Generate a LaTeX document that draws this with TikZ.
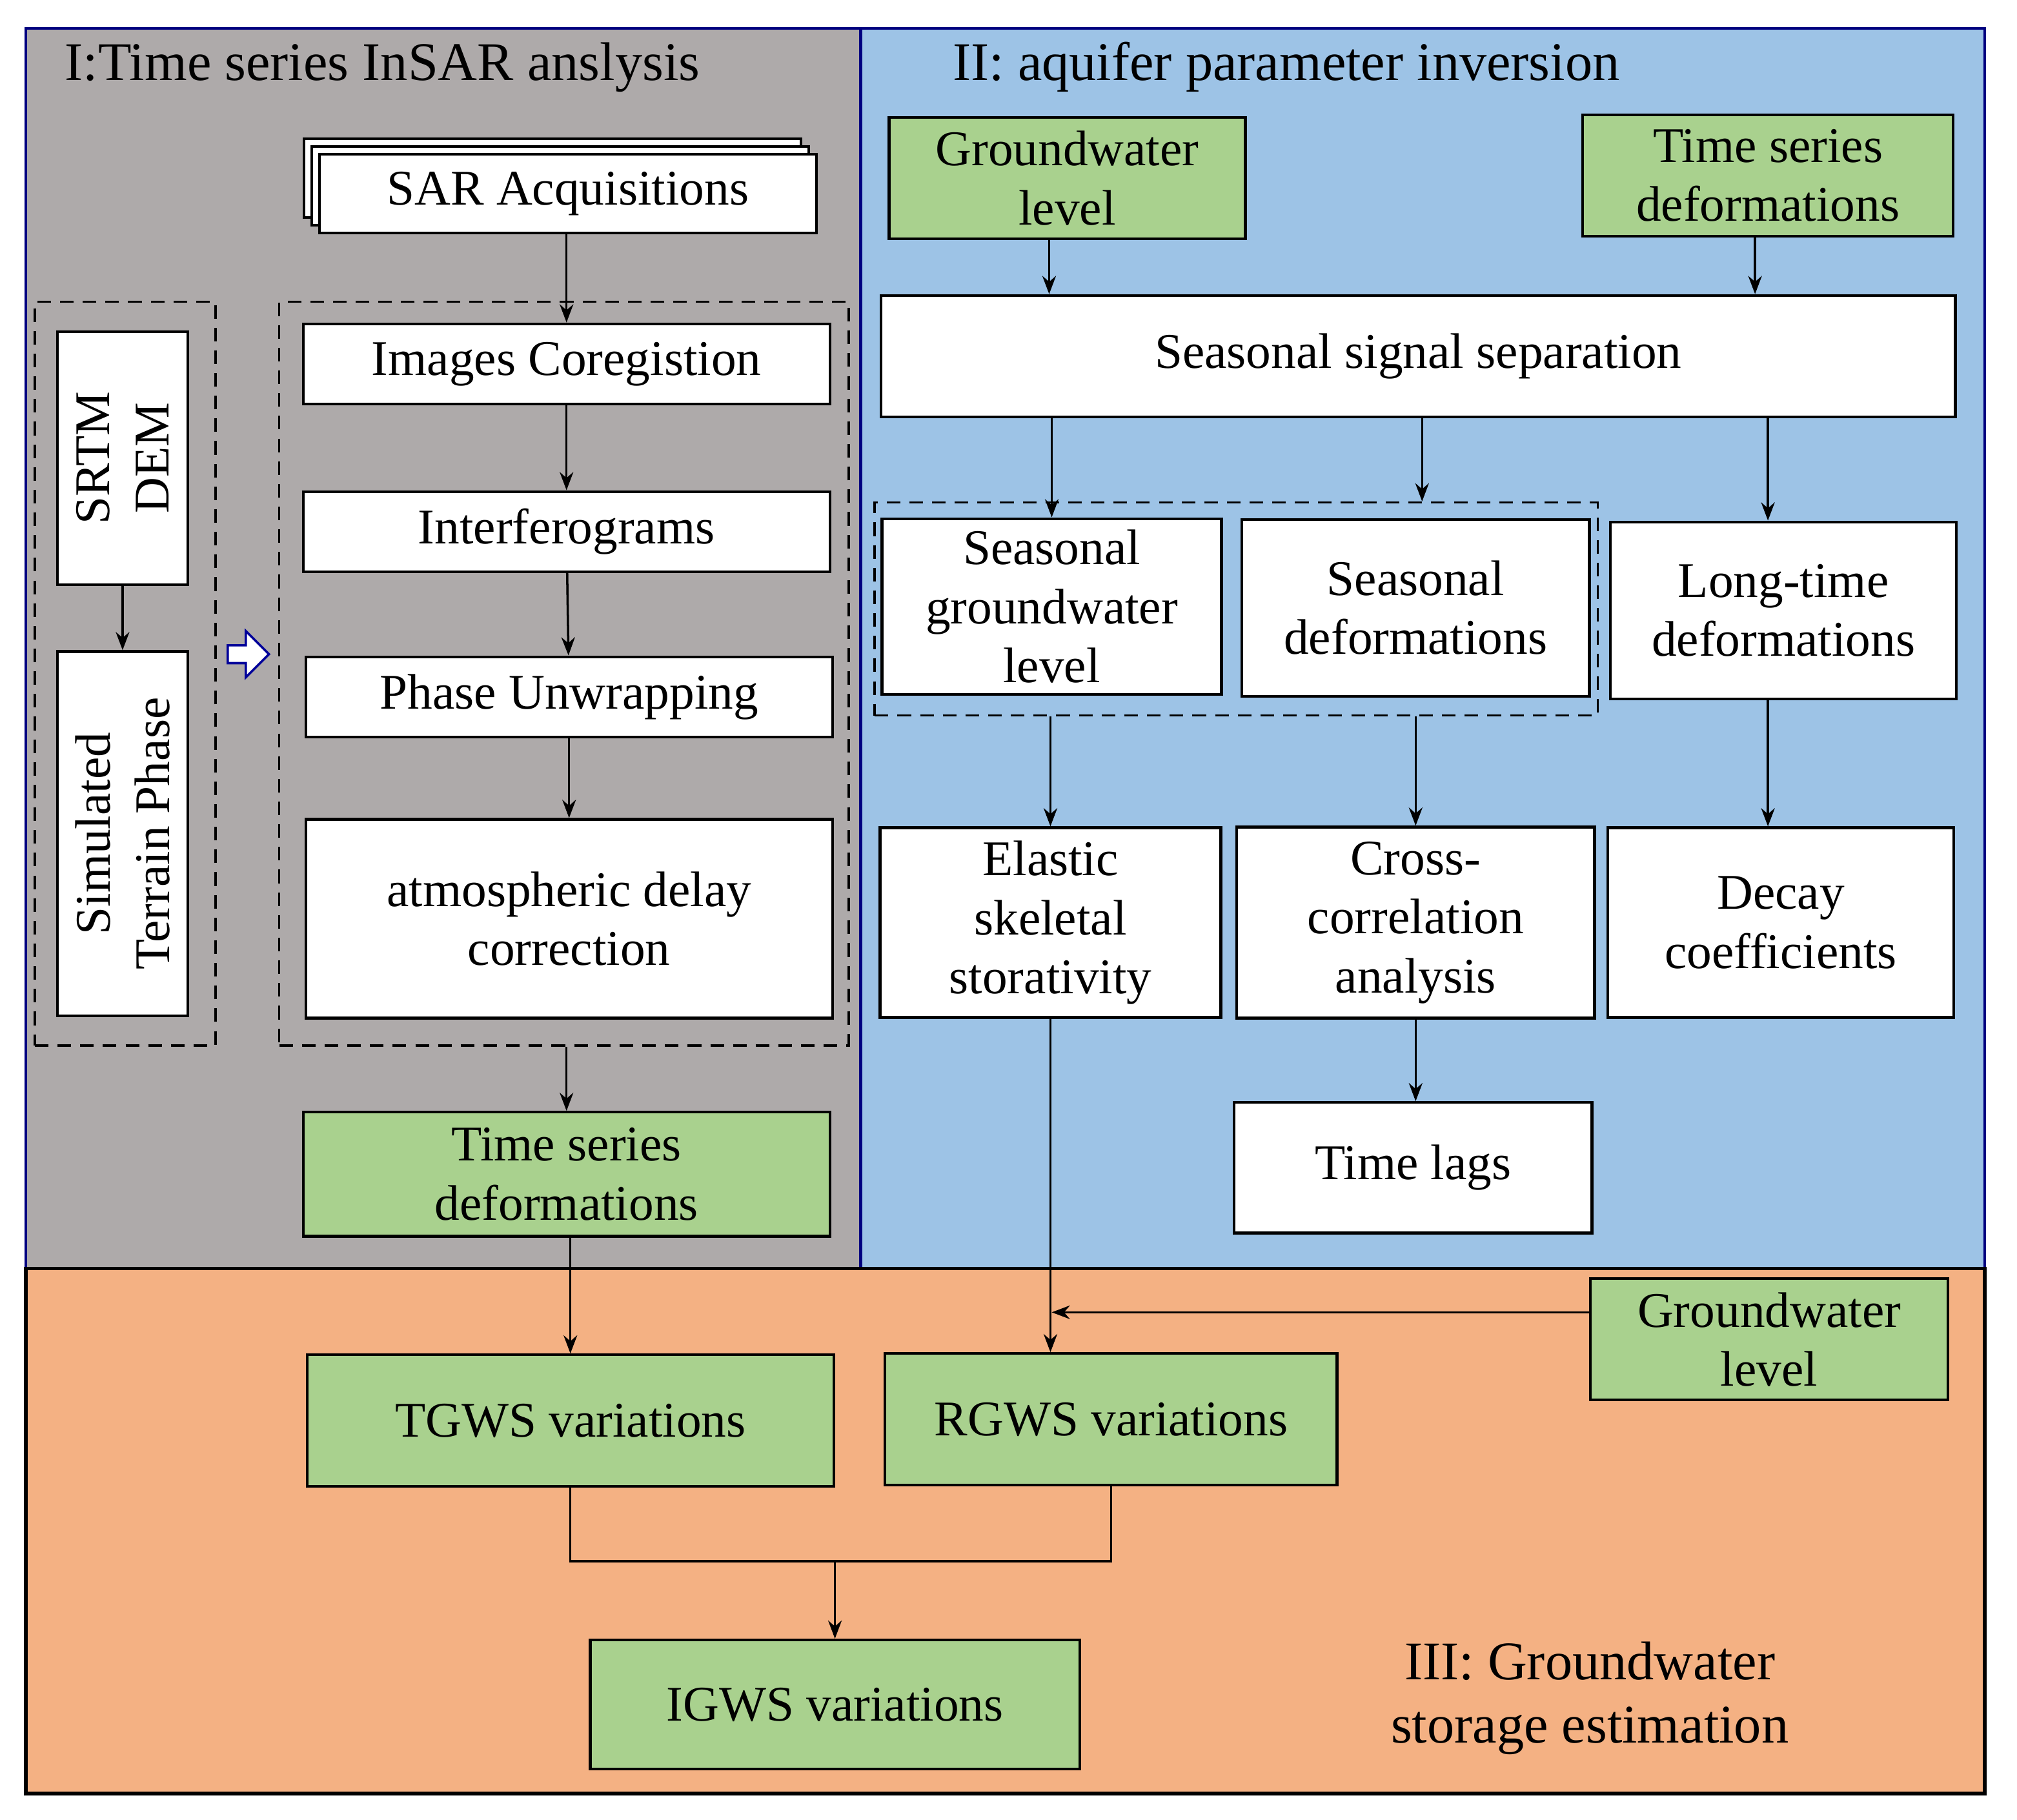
\documentclass[tikz,border=0pt]{standalone}
\usepackage{fontspec}
\setmainfont{Liberation Serif}
\usetikzlibrary{arrows.meta,positioning,shapes.arrows}
\definecolor{grayp}{HTML}{AEAAAA}
\definecolor{bluep}{HTML}{9DC3E6}
\definecolor{orangep}{HTML}{F4B183}
\definecolor{greenb}{HTML}{A9D18E}
\begin{document}
\begin{tikzpicture}[x=0.01cm,y=-0.01cm,font=\fontsize{11}{13}\selectfont]
        \tikzstyle{box} = [draw, fill=white, align=center, inner sep=1pt, line width=0.6pt]
        \tikzstyle{gbox} = [box, fill=greenb]
        \tikzstyle{dbox} = [draw, densely dashed, line width=0.5pt, inner sep=0pt]
        \tikzstyle{blk} = [draw, black, line width=0.5pt, -{Stealth[length=4pt,width=3pt]}]
        \useasboundingbox (0,0) rectangle (1563,1410);

        % panels
        \fill[grayp] (20,22) rectangle (667,983);
        \fill[bluep] (667,22) rectangle (1538,983);
        \fill[orangep] (20,983) rectangle (1538,1390);
        \draw[line width=0.6pt, blue!50!black] (20,22) rectangle (667,983) (667,22) rectangle (1538,983);
        \draw[line width=0.8pt] (20,983) rectangle (1538,1390);
        \node[anchor=west, font=\fontsize{12}{14}\selectfont] (t1) at (38,52) {I:Time series InSAR anslysis};
        \node[anchor=west, font=\fontsize{12}{14}\selectfont] (t2) at (726,52) {II: aquifer parameter inversion};
        \node[align=center, font=\fontsize{12}{14}\selectfont] (t3) at (1232,1316) {III: Groundwater\\storage estimation};

        % part I
        \node[box, minimum width=3.85cm, minimum height=0.61cm] (sarc) at (428,138) {};
        \node[box, minimum width=3.85cm, minimum height=0.61cm] (sarb) at (434,144) {};
        \node[box, minimum width=3.85cm, minimum height=0.61cm] (sar) at (440,150) {SAR Acquisitions};
        \node[dbox, minimum width=4.41cm, minimum height=5.76cm] (proc) at (437,522) {};
        \node[box, minimum width=4.08cm, minimum height=0.62cm] (coreg) at (439,282) {Images Coregistion};
        \node[box, minimum width=4.08cm, minimum height=0.62cm] (interf) at (439,412) {Interferograms};
        \node[box, minimum width=4.08cm, minimum height=0.62cm] (unwrap) at (441,540) {Phase Unwrapping};
        \node[box, minimum width=4.08cm, minimum height=1.54cm] (atm) at (441,712) {atmospheric delay\\correction};
        \node[dbox, minimum width=1.40cm, minimum height=5.76cm] (demgrp) at (97,522) {};
        \node[box, rotate=90, minimum width=1.96cm, minimum height=1.01cm] (srtm) at (95,355) {SRTM\\DEM};
        \node[box, rotate=90, minimum width=2.82cm, minimum height=1.01cm] (sim) at (95,646) {Simulated\\Terrain Phase};
        \node[draw=blue!60!black, fill=white, single arrow, minimum height=0.32cm, minimum width=0.36cm,
              single arrow head extend=2pt, inner sep=1pt, line width=0.5pt] (hollow) at (189,507) {};
        \node[gbox, minimum width=4.08cm, minimum height=0.96cm] (tsleft) at (439,910) {Time series\\deformations};

        % part II
        \node[gbox, minimum width=2.76cm, minimum height=0.94cm] (gw) at (827,138) {Groundwater\\level};
        \node[gbox, minimum width=2.87cm, minimum height=0.94cm] (tsright) at (1370,136) {Time series\\deformations};
        \node[box, minimum width=8.32cm, minimum height=0.94cm] (seasep) at (1099,276) {Seasonal signal separation};
        \node[dbox, minimum width=5.60cm, minimum height=1.65cm] (seasgrp) at (958,472) {};
        \node[box, minimum width=2.63cm, minimum height=1.36cm] (sgw) at (815,470) {Seasonal\\groundwater\\level};
        \node[box, minimum width=2.69cm, minimum height=1.37cm] (sdef) at (1097,471) {Seasonal\\deformations};
        \node[box, minimum width=2.68cm, minimum height=1.37cm] (ldef) at (1382,473) {Long-time\\deformations};
        \node[box, minimum width=2.64cm, minimum height=1.47cm] (elastic) at (814,715) {Elastic\\skeletal\\storativity};
        \node[box, minimum width=2.77cm, minimum height=1.48cm] (cross) at (1097,715) {Cross-\\correlation\\analysis};
        \node[box, minimum width=2.68cm, minimum height=1.47cm] (decay) at (1380,715) {Decay\\coefficients};
        \node[box, minimum width=2.77cm, minimum height=1.01cm] (lags) at (1095,905) {Time lags};

        % part III
        \node[gbox, minimum width=2.77cm, minimum height=0.94cm] (gwo) at (1371,1038) {Groundwater\\level};
        \node[gbox, minimum width=4.08cm, minimum height=1.02cm] (tgws) at (442,1101) {TGWS variations};
        \node[gbox, minimum width=3.50cm, minimum height=1.02cm] (rgws) at (861,1100) {RGWS variations};
        \node[gbox, minimum width=3.79cm, minimum height=1.00cm] (igws) at (647,1321) {IGWS variations};
        \coordinate (gwin) at (815,1017);
        \coordinate (merge) at (647,1210);

        \path[blk] (sar.south -| coreg) to (coreg);
        \path[blk] (coreg) to (interf);
        \path[blk] (interf) to (unwrap);
        \path[blk] (unwrap) to (atm);
        \path[blk] (proc.south -| tsleft) to (tsleft);
        \path[blk] (srtm) to (sim);
        \path[blk] (tsleft.south -| tgws) to (tgws);
        \path[blk] (gw.south -| 813,0) to (seasep.north -| 813,0);
        \path[blk] (tsright.south -| 1360,0) to (seasep.north -| 1360,0);
        \path[blk] (seasep.south -| sgw) to (sgw);
        \path[blk] (seasep.south -| 1102,0) to (seasgrp.north -| 1102,0);
        \path[blk] (seasep.south -| 1370,0) to (ldef.north -| 1370,0);
        \path[blk] (seasgrp.south -| elastic) to (elastic);
        \path[blk] (seasgrp.south -| cross) to (cross);
        \path[blk] (ldef.south -| 1370,0) to (decay.north -| 1370,0);
        \path[blk] (cross) to (cross.south |- lags.north);
        \path[blk] (elastic.south) to (elastic.south |- rgws.north);
        \path[blk] (gwo.west |- gwin) to (gwin);
        \draw[line width=0.5pt] (tgws.south) |- (merge) -| (rgws.south);
        \path[blk] (merge) to (igws);
\end{tikzpicture}
\end{document}
